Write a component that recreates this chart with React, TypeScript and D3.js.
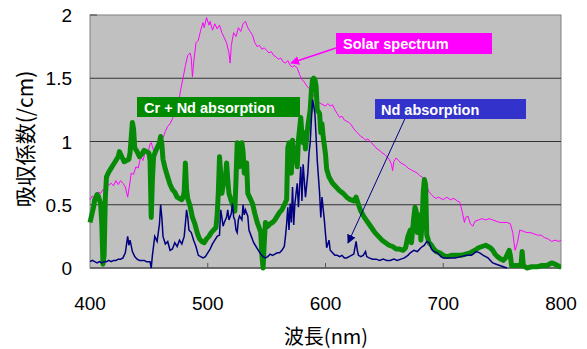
import React from "react";
import * as d3 from "d3";

// ---- data (wavelength nm, absorption /cm) ----
const solarNm = [400,402,404,407,409,411,413,415,418,420,422,424,426,428,430,432,434,435,437,439,441,443,445,447,449,451,452,454,456,458,460,462,464,466,468,470,472,474,476,477,479,481,483,485,486,487,488,490,492,494,496,497,499,501,502,504,506,508,510,512,514,516,518,519,520,522,524,526,528,530,532,534,536,538,540,542,544,546,548,550,552,554,556,558,560,562,564,566,568,570,572,574,576,578,580,582,584,586,588,590,592,594,596,598,600,602,604,606,608,610,612,614,616,618,620,622,624,626,628,630,632,634,636,638,640,642,644,646,648,650,652,654,656,657,658,660,662,664,666,668,670,672,674,676,678,680,682,684,686,688,690,692,694,696,698,700,703,706,709,712,714,716,718,719,721,723,725,727,730,733,736,739,742,745,748,751,754,757,759,761,763,765,768,771,774,777,780,783,786,789,792,795,798,800];
const solarVal = [0.54,0.57,0.55,0.60,0.59,0.62,0.60,0.65,0.67,0.65,0.69,0.66,0.69,0.67,0.64,0.56,0.68,0.75,0.74,0.80,0.79,0.88,0.85,0.92,0.90,0.98,0.99,0.93,0.90,0.98,1.04,1.03,1.08,1.12,1.14,1.18,1.22,1.28,1.35,1.41,1.50,1.60,1.68,1.70,1.66,1.51,1.62,1.78,1.80,1.88,1.94,1.90,1.98,1.92,1.95,1.88,1.93,1.89,1.92,1.86,1.82,1.78,1.70,1.62,1.76,1.86,1.83,1.90,1.87,1.93,1.95,1.90,1.87,1.84,1.78,1.75,1.76,1.73,1.74,1.72,1.70,1.71,1.68,1.67,1.65,1.66,1.63,1.62,1.64,1.60,1.59,1.60,1.58,1.53,1.49,1.47,1.44,1.42,1.39,1.36,1.34,1.31,1.30,1.29,1.28,1.30,1.28,1.29,1.25,1.22,1.19,1.20,1.17,1.16,1.15,1.13,1.10,1.08,1.06,1.04,1.03,1.01,1.02,1.00,0.98,0.96,0.94,0.93,0.91,0.90,0.88,0.86,0.82,0.77,0.84,0.87,0.85,0.83,0.82,0.81,0.79,0.78,0.77,0.76,0.75,0.73,0.72,0.70,0.65,0.60,0.58,0.56,0.55,0.56,0.55,0.54,0.56,0.54,0.55,0.53,0.52,0.45,0.36,0.40,0.41,0.35,0.33,0.37,0.38,0.39,0.38,0.39,0.38,0.37,0.36,0.36,0.36,0.35,0.28,0.14,0.20,0.30,0.29,0.28,0.28,0.27,0.26,0.26,0.24,0.23,0.21,0.22,0.21,0.22];

const ndNm = [400,402,404,406,408,410,412,414,416,418,420,422,424,426,428,430,432,433,434,436,438,440,442,444,446,448,450,451,452,453,455,457,459,460,461,462,464,466,468,470,472,474,476,478,480,481,482,483,484,486,488,490,492,494,496,498,500,502,504,506,508,510,511,512,513,514,516,517,518,520,521,522,523,524,525,526,527,529,530,531,532,534,535,537,539,541,543,545,547,549,551,553,555,557,559,561,563,565,566,567,568,569,570,571,572,573,574,576,577,579,580,581,583,585,586,587,588,589,590,591,592,593,595,596,597,599,601,603,604,606,608,610,612,614,616,618,620,622,624,626,627,628,630,632,634,635,637,640,643,646,649,652,655,658,661,664,667,670,672,675,678,681,684,686,688,690,692,695,698,700,705,710,715,720,724,728,731,734,738,742,745,748,751,754];
const ndVal = [0.05,0.06,0.05,0.04,0.05,0.04,0.05,0.05,0.06,0.05,0.06,0.06,0.07,0.07,0.08,0.12,0.25,0.18,0.22,0.13,0.09,0.07,0.06,0.06,0.06,0.05,0.05,0.05,0.0,0.10,0.25,0.21,0.35,0.50,0.40,0.25,0.19,0.21,0.14,0.15,0.20,0.17,0.22,0.19,0.25,0.35,0.46,0.40,0.30,0.28,0.22,0.17,0.10,0.09,0.08,0.09,0.12,0.15,0.19,0.22,0.25,0.26,0.46,0.40,0.33,0.36,0.40,0.46,0.38,0.43,0.51,0.40,0.38,0.30,0.28,0.38,0.41,0.38,0.50,0.42,0.46,0.41,0.30,0.25,0.20,0.17,0.14,0.11,0.09,0.08,0.09,0.11,0.10,0.11,0.12,0.12,0.14,0.17,0.25,0.35,0.48,0.30,0.51,0.36,0.64,0.34,0.51,0.67,0.48,0.80,0.53,0.82,0.56,0.75,0.91,0.99,1.17,1.33,1.28,1.22,1.04,0.85,0.59,0.40,0.56,0.38,0.16,0.22,0.14,0.12,0.10,0.10,0.09,0.10,0.08,0.08,0.09,0.10,0.11,0.21,0.14,0.10,0.09,0.10,0.13,0.09,0.08,0.07,0.07,0.06,0.07,0.06,0.06,0.07,0.06,0.07,0.08,0.10,0.12,0.14,0.13,0.16,0.18,0.21,0.20,0.15,0.13,0.12,0.09,0.08,0.08,0.08,0.09,0.10,0.10,0.13,0.12,0.10,0.08,0.04,0.03,0.02,0.01,0.0];

const crNdNm = [400,401,403,404,406,407,409,410,411,412,413,414,416,418,420,422,424,425,427,429,431,433,434,436,437,438,440,442,444,446,448,450,451,452,453,454,456,458,459,460,461,462,464,466,468,470,472,474,476,478,479,480,481,482,483,485,487,489,491,493,495,497,499,501,503,505,507,508,509,510,511,512,513,515,516,517,518,520,522,523,524,525,526,527,528,529,530,531,532,533,534,536,538,540,542,544,545,546,547,548,549,551,553,555,557,559,561,563,565,567,568,569,570,571,572,573,574,576,577,578,579,580,581,582,583,585,587,588,589,590,591,592,593,595,596,597,598,600,601,603,606,609,612,615,618,621,624,626,628,630,633,636,639,642,645,648,651,654,657,660,663,666,668,670,672,673,675,676,677,678,679,680,681,682,683,684,685,686,688,690,692,694,697,700,703,707,711,715,719,723,727,730,733,736,738,740,742,744,746,749,751,753,756,757,758,762,766,767,768,771,775,780,784,788,792,795,799,800];
const crNdVal = [0.36,0.40,0.48,0.54,0.58,0.57,0.51,0.35,0.03,0.10,0.55,0.72,0.76,0.79,0.82,0.85,0.88,0.92,0.88,0.84,0.85,0.86,0.91,1.15,1.10,0.95,0.92,0.88,0.90,0.93,0.92,0.91,0.85,0.40,0.70,0.88,0.93,0.97,0.99,1.04,0.98,0.86,0.78,0.72,0.66,0.62,0.60,0.56,0.55,0.54,0.56,0.60,0.83,0.62,0.55,0.49,0.40,0.35,0.28,0.23,0.21,0.20,0.23,0.25,0.28,0.30,0.32,0.42,0.60,0.88,0.75,0.59,0.65,0.71,0.83,0.70,0.59,0.53,0.48,0.45,0.70,0.99,0.90,0.80,0.88,0.99,0.92,0.75,0.80,0.83,0.59,0.55,0.51,0.43,0.36,0.31,0.28,0.10,0.00,0.20,0.36,0.33,0.35,0.36,0.38,0.41,0.44,0.46,0.50,0.54,0.95,0.99,0.80,0.75,1.01,0.90,0.95,0.80,1.01,1.10,1.19,1.05,0.99,1.07,0.94,1.12,1.25,1.40,1.49,1.50,1.49,1.44,1.25,1.22,1.07,1.14,1.04,0.90,0.78,0.72,0.67,0.64,0.61,0.59,0.56,0.54,0.53,0.56,0.50,0.45,0.40,0.36,0.32,0.28,0.25,0.22,0.20,0.18,0.17,0.15,0.15,0.14,0.16,0.25,0.30,0.20,0.40,0.48,0.45,0.28,0.33,0.42,0.22,0.35,0.60,0.70,0.66,0.26,0.20,0.18,0.15,0.13,0.12,0.10,0.09,0.10,0.10,0.10,0.11,0.12,0.14,0.16,0.17,0.18,0.17,0.16,0.14,0.11,0.09,0.07,0.06,0.08,0.14,0.10,0.02,0.02,0.02,0.13,0.02,0.00,0.01,0.01,0.02,0.02,0.04,0.03,0.01,0.01];

const xTicks = [400, 500, 600, 700, 800];
const yTicks = [0, 0.5, 1, 1.5, 2];
const xTitle = "波長(nm)";
const yTitle = "吸収係数(/cm)";
const labelSolar = "Solar spectrum";
const labelCrNd = "Cr + Nd absorption";
const labelNd = "Nd absorption";

const W = 587, H = 349;
const m = { left: 90, right: 561, top: 15, bottom: 268 };

export default function App() {
  const x = d3.scaleLinear().domain([400, 800]).range([m.left, m.right]);
  const y = d3.scaleLinear().domain([0, 2]).range([m.bottom, m.top]);
  const line = (nm: number[], v: number[]) =>
    d3.line<number>().x((_, i) => x(nm[i])).y((d) => y(d))(v) || "";
  const numFont = "'Liberation Sans', Arial, sans-serif";
  const cjkFont = "'Noto Sans CJK JP', sans-serif";
  const boxFont = "'Liberation Sans', Arial, sans-serif";

  return (
    <svg width={W} height={H} style={{ position: "absolute", left: 0, top: 0, background: "#fff" }}>
      <defs>
        <marker id="arrM" viewBox="0 0 10 10" refX="9" refY="5" markerWidth="9" markerHeight="9" markerUnits="userSpaceOnUse" orient="auto">
          <path d="M0,0 L10,5 L0,10 z" fill="#ff00ff" />
        </marker>
        <marker id="arrB" viewBox="0 0 10 10" refX="9" refY="5" markerWidth="9" markerHeight="9" markerUnits="userSpaceOnUse" orient="auto">
          <path d="M0,0 L10,5 L0,10 z" fill="#000080" />
        </marker>
      </defs>
      <rect x={m.left} y={m.top} width={m.right - m.left} height={m.bottom - m.top} fill="#c0c0c0" stroke="#808080" strokeWidth={1} />
      {yTicks.filter((t) => t > 0 && t < 2).map((t) => (
        <line key={t} x1={m.left} x2={m.right} y1={y(t)} y2={y(t)} stroke="#333" strokeWidth={1} />
      ))}
      <line x1={m.left} x2={m.right} y1={m.bottom} y2={m.bottom} stroke="#555" strokeWidth={1.5} />
      {xTicks.slice(1, -1).map((t) => (
        <line key={t} x1={x(t)} x2={x(t)} y1={m.bottom} y2={m.bottom - 5} stroke="#555" strokeWidth={1} />
      ))}
      <line x1={m.left} x2={m.left + 7} y1={m.top} y2={m.top} stroke="#444" strokeWidth={1} />

      <path d={line(solarNm, solarVal)} fill="none" stroke="#ff00ff" strokeWidth={1} />
      <path d={line(crNdNm, crNdVal)} fill="none" stroke="#078a07" strokeWidth={5} strokeLinejoin="round" />
      <path d={line(ndNm, ndVal)} fill="none" stroke="#000080" strokeWidth={1.5} />

      {yTicks.map((t) => (
        <text key={t} x={72} y={y(t)} dy="0.38em" textAnchor="end" fontFamily={numFont} fontSize={19} fill="#000">{t}</text>
      ))}
      {xTicks.map((t) => (
        <text key={t} x={x(t)} y={310} textAnchor="middle" fontFamily={numFont} fontSize={19} fill="#000">{t}</text>
      ))}
      <text x={326} y={344} textAnchor="middle" fontFamily={cjkFont} fontSize={20} fill="#000">{xTitle}</text>
      <text transform="translate(24,139) rotate(-90)" textAnchor="middle" dominantBaseline="central" fontFamily={cjkFont} fontSize={21} fill="#000">{yTitle}</text>

      {/* annotations */}
      <line x1={336} y1={48} x2={291} y2={63} stroke="#ff00ff" strokeWidth={1.5} markerEnd="url(#arrM)" />
      <rect x={336} y={33} width={156} height={21} fill="#ff00ff" />
      <text x={343} y={49} fontFamily={boxFont} fontWeight="bold" fontSize={14.5} fill="#fff">{labelSolar}</text>

      <rect x={137} y={97} width={163} height={20} fill="#008a00" />
      <text x={144} y={112.5} fontFamily={boxFont} fontWeight="bold" fontSize={14.5} fill="#fff">{labelCrNd}</text>

      <line x1={408} y1={112} x2={348} y2={243} stroke="#000080" strokeWidth={1} markerEnd="url(#arrB)" />
      <rect x={375} y={99} width={151} height={20} fill="#3333cc" />
      <text x={381} y={114.5} fontFamily={boxFont} fontWeight="bold" fontSize={14.5} fill="#fff">{labelNd}</text>
    </svg>
  );
}
